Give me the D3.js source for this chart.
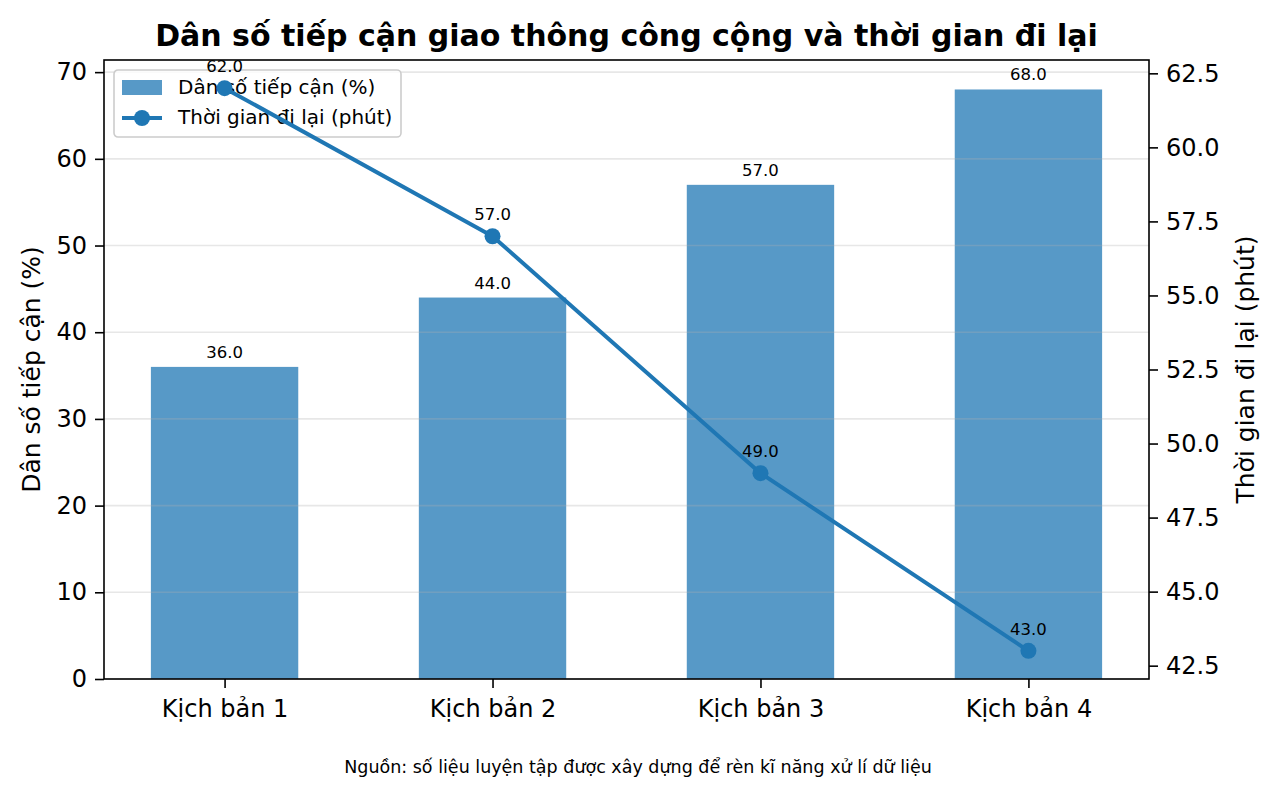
<!DOCTYPE html>
<html lang="vi">
<head>
<meta charset="UTF-8">
<title>Dân số tiếp cận giao thông công cộng</title>
<script src="https://cdn.jsdelivr.net/npm/d3@7"></script>
<style>
  body { margin: 0; background: #fff; }
  text { font-family: "DejaVu Sans", sans-serif; fill: #000; }
</style>
</head>
<body>
<script>
var width = 1276, height = 795;
var margin = {left: 104, right: 127, top: 60, bottom: 116};

// dữ liệu
var categories = ["Kịch bản 1", "Kịch bản 2", "Kịch bản 3", "Kịch bản 4"];
var accessPct = [36, 44, 57, 68];
var travelMin = [62, 57, 49, 43];
var leftTicks = [0, 10, 20, 30, 40, 50, 60, 70];
var rightTicks = [42.5, 45, 47.5, 50, 52.5, 55, 57.5, 60, 62.5];

var blue = "#1f77b4";
var pw = width - margin.left - margin.right;
var ph = height - margin.top - margin.bottom;

var svg = d3.select("body").append("svg").attr("width", width).attr("height", height);
var g = svg.append("g").attr("transform", "translate(" + margin.left + "," + margin.top + ")");

// trục x theo vị trí chỉ số, như matplotlib (xlim -0.45 .. 3.45)
var x = d3.scaleLinear().domain([-0.45, categories.length - 1 + 0.45]).range([0, pw]);
var barW = x(0.55) - x(0);
var yL = d3.scaleLinear().domain([0, d3.max(accessPct) * 1.05]).range([ph, 0]);
var tMin = d3.min(travelMin), tMax = d3.max(travelMin), pad = (tMax - tMin) * 0.05;
var yR = d3.scaleLinear().domain([tMin - pad, tMax + pad]).range([ph, 0]);

// cột
g.selectAll("rect.bar").data(accessPct).enter().append("rect")
  .attr("class", "bar")
  .attr("x", function(d, i) { return x(i) - barW / 2; })
  .attr("y", function(d) { return yL(d); })
  .attr("width", barW)
  .attr("height", function(d) { return ph - yL(d); })
  .attr("fill", blue).attr("fill-opacity", 0.75);

// lưới
g.selectAll("line.grid").data(leftTicks).enter().append("line")
  .attr("class", "grid")
  .attr("x1", 0).attr("x2", pw)
  .attr("y1", function(d) { return yL(d); }).attr("y2", function(d) { return yL(d); })
  .attr("stroke", "#b0b0b0").attr("stroke-opacity", 0.3).attr("stroke-width", 1.6);

// nhãn cột
g.selectAll("text.barlab").data(accessPct).enter().append("text")
  .attr("x", function(d, i) { return x(i); })
  .attr("y", function(d) { return yL(d) - 9; })
  .attr("text-anchor", "middle").attr("font-size", 16.5)
  .text(function(d) { return d.toFixed(1); });

// các trục
var axL = g.append("g").call(d3.axisLeft(yL).tickValues(leftTicks).tickSize(9).tickPadding(8));
var axR = g.append("g").attr("transform", "translate(" + pw + ",0)")
  .call(d3.axisRight(yR).tickValues(rightTicks).tickFormat(d3.format(".1f")).tickSize(9).tickPadding(8));
var axB = g.append("g").attr("transform", "translate(0," + ph + ")")
  .call(d3.axisBottom(x).tickValues(d3.range(categories.length))
    .tickFormat(function(i) { return categories[i]; }).tickSize(9).tickPadding(12));
[axL, axR, axB].forEach(function(a) {
  a.selectAll("text").attr("font-size", 24).attr("font-family", "DejaVu Sans").attr("fill", "#000");
  a.selectAll("line").attr("stroke", "#000").attr("stroke-width", 1.6);
  a.select(".domain").remove();
});
g.append("rect").attr("width", pw).attr("height", ph)
  .attr("fill", "none").attr("stroke", "#000").attr("stroke-width", 1.6);

// chú giải
var lg = g.append("g").attr("transform", "translate(10,10)");
lg.append("rect").attr("width", 287).attr("height", 67).attr("rx", 4)
  .attr("fill", "#fff").attr("fill-opacity", 0.8).attr("stroke", "#cccccc").attr("stroke-width", 1.6);
lg.append("rect").attr("x", 8).attr("y", 10).attr("width", 40).attr("height", 15)
  .attr("fill", blue).attr("fill-opacity", 0.75);
lg.append("line").attr("x1", 8).attr("x2", 48).attr("y1", 48).attr("y2", 48)
  .attr("stroke", blue).attr("stroke-width", 4);
lg.append("circle").attr("cx", 28).attr("cy", 48).attr("r", 8).attr("fill", blue);
lg.append("text").attr("x", 64).attr("y", 24).attr("font-size", 20).text("Dân số tiếp cận (%)");
lg.append("text").attr("x", 64).attr("y", 54).attr("font-size", 20).text("Thời gian đi lại (phút)");

// đường
var line = d3.line().x(function(d, i) { return x(i); }).y(function(d) { return yR(d); });
g.append("path").datum(travelMin).attr("d", line)
  .attr("fill", "none").attr("stroke", blue).attr("stroke-width", 4).attr("stroke-linejoin", "round");
g.selectAll("circle.pt").data(travelMin).enter().append("circle")
  .attr("class", "pt")
  .attr("cx", function(d, i) { return x(i); })
  .attr("cy", function(d) { return yR(d); })
  .attr("r", 8).attr("fill", blue);
g.selectAll("text.ptlab").data(travelMin).enter().append("text")
  .attr("x", function(d, i) { return x(i); })
  .attr("y", function(d) { return yR(d) - 16; })
  .attr("text-anchor", "middle").attr("font-size", 16.5)
  .text(function(d) { return d.toFixed(1); });

// tiêu đề, nhãn trục, nguồn
svg.append("text").attr("x", margin.left + pw / 2).attr("y", 46)
  .attr("text-anchor", "middle").attr("font-size", 30).attr("font-weight", "bold")
  .text("Dân số tiếp cận giao thông công cộng và thời gian đi lại");
svg.append("text").attr("transform", "translate(40," + (margin.top + ph / 2) + ") rotate(-90)")
  .attr("text-anchor", "middle").attr("font-size", 25).text("Dân số tiếp cận (%)");
svg.append("text").attr("transform", "translate(1254," + (margin.top + ph / 2) + ") rotate(-90)")
  .attr("text-anchor", "middle").attr("font-size", 25).text("Thời gian đi lại (phút)");
svg.append("text").attr("x", 638).attr("y", 773)
  .attr("text-anchor", "middle").attr("font-size", 17.5)
  .text("Nguồn: số liệu luyện tập được xây dựng để rèn kĩ năng xử lí dữ liệu");
</script>
</body>
</html>
